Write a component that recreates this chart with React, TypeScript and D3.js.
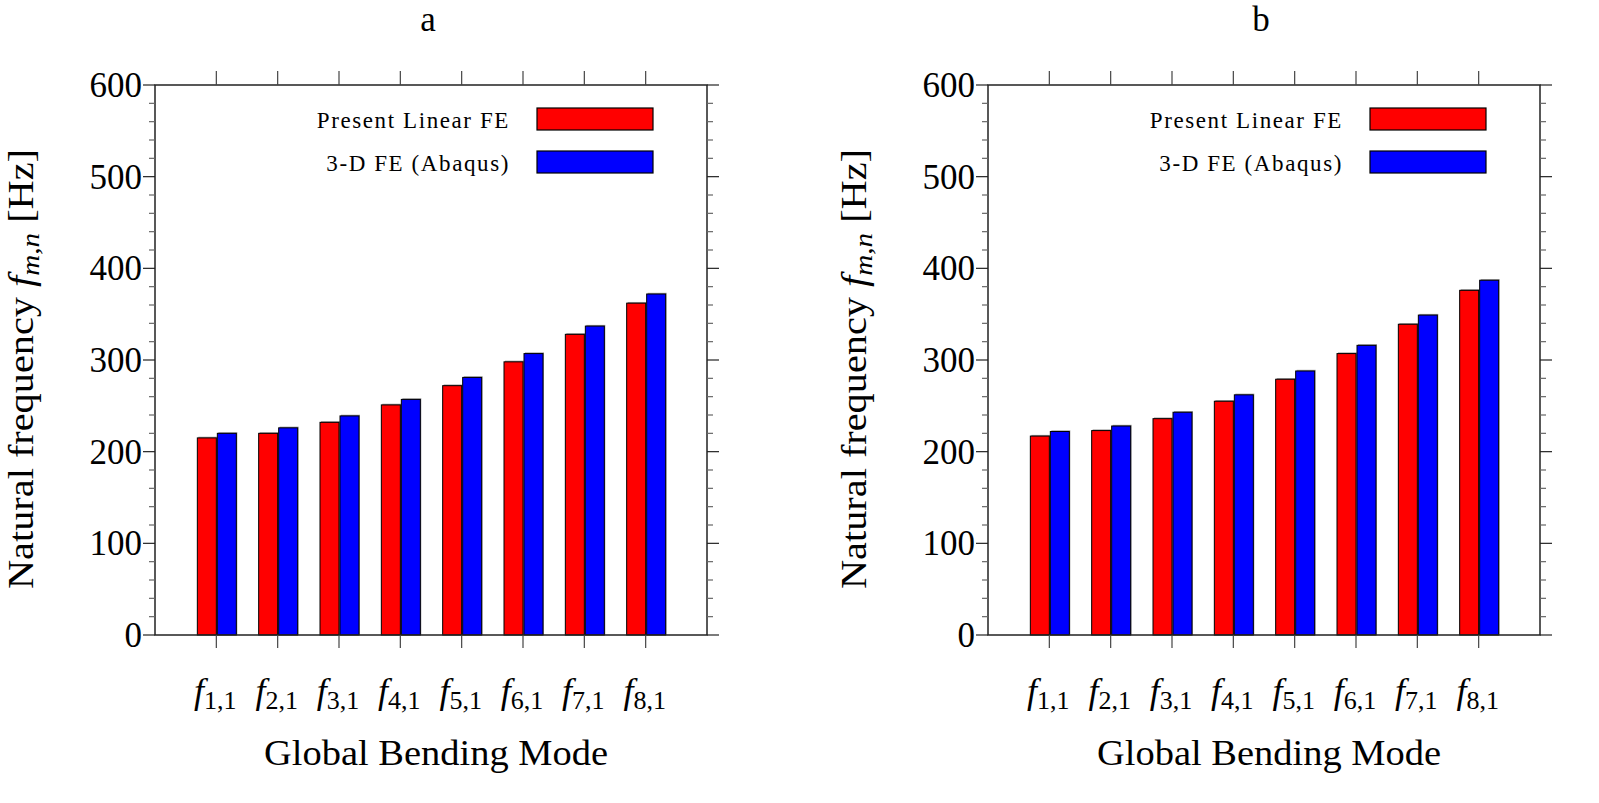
import React from "react";
import * as d3 from "d3";

const modes = ["1", "2", "3", "4", "5", "6", "7", "8"];
const presentA = [215, 220, 232, 251, 272, 298, 328, 362];
const abaqusA = [220, 226, 239, 257, 281, 307, 337, 372];
const presentB = [217, 223, 236, 255, 279, 307, 339, 376];
const abaqusB = [222, 228, 243, 262, 288, 316, 349, 387];
const yTicks = [0, 100, 200, 300, 400, 500, 600];
const seriesNames = ["Present Linear FE", "3-D FE (Abaqus)"];
const seriesColors = ["#ff0000", "#0000ff"];
const panelTitles = ["a", "b"];

const W = 1599;
const H = 803;
const FONT = "'Liberation Serif', 'Times New Roman', serif";

function Panel({ ox, title, s1, s2 }: { ox: number; title: string; s1: number[]; s2: number[] }) {
  const left = ox;
  const right = ox + 552;
  const top = 85;
  const bottom = 635;
  const x = d3.scaleLinear().domain([0, modes.length + 1]).range([left, right]);
  const y = d3.scaleLinear().domain([0, 600]).range([bottom, top]);
  const minor = d3.range(0, 601, 20);
  const bw = 19;
  const cx = (left + right) / 2;

  const bar = (xv: number, v: number, fill: string, key: string) => (
    <g key={key}>
      <rect x={xv + 1} y={y(v) - 1.2} width={bw} height={bottom - y(v) + 1.2} fill="#a0a0a0" />
      <rect x={xv} y={y(v)} width={bw} height={bottom - y(v)} fill={fill} stroke="#000" strokeWidth={1} />
    </g>
  );

  return (
    <g>
      <text x={cx - 3} y={31} fontSize={35} fontFamily={FONT} textAnchor="middle">{title}</text>
      {/* bars */}
      {modes.map((m, i) => {
        const c = x(i + 1);
        return (
          <g key={m}>
            {bar(c - bw, s1[i], seriesColors[0], "r")}
            {bar(c + 1, s2[i], seriesColors[1], "b")}
          </g>
        );
      })}
      {/* frame */}
      <rect x={left} y={top} width={right - left} height={bottom - top} fill="none" stroke="#222" strokeWidth={1.5} />
      {/* y ticks */}
      {minor.map((v) => {
        const major = v % 100 === 0;
        const len = major ? 12 : 6;
        return (
          <g key={v} stroke={major ? "#222" : "#666"} strokeWidth={1.2}>
            <line x1={left - len} x2={left} y1={y(v)} y2={y(v)} />
            <line x1={right} x2={right + len} y1={y(v)} y2={y(v)} />
          </g>
        );
      })}
      {yTicks.map((v) => (
        <text key={v} x={left - 13} y={y(v) + 12} fontSize={35} fontFamily={FONT} textAnchor="end">{v}</text>
      ))}
      {/* x ticks */}
      {modes.map((m, i) => (
        <g key={m} stroke="#444" strokeWidth={1.2}>
          <line x1={x(i + 1)} x2={x(i + 1)} y1={top} y2={top - 14} />
          <line x1={x(i + 1)} x2={x(i + 1)} y1={bottom} y2={bottom + 13} />
        </g>
      ))}
      {modes.map((m, i) => (
        <text key={m} x={x(i + 1) - 1} y={703} fontSize={36} fontFamily={FONT} textAnchor="middle">
          <tspan fontStyle="italic">f</tspan>
          <tspan fontSize={26} dy={6}>{m},1</tspan>
        </text>
      ))}
      <text x={cx + 5} y={765} fontSize={35} fontFamily={FONT} textAnchor="middle" textLength={344} lengthAdjust="spacingAndGlyphs">
        Global Bending Mode
      </text>
      {/* y label */}
      <text transform={`translate(${ox - 122},${369}) rotate(-90)`} fontSize={36} fontFamily={FONT} textAnchor="middle" textLength={440} lengthAdjust="spacingAndGlyphs">
        <tspan>Natural frequency </tspan>
        <tspan fontStyle="italic">f</tspan>
        <tspan fontStyle="italic" fontSize={26} dy={6}>m,n</tspan>
        <tspan dy={-6}> [Hz]</tspan>
      </text>
      {/* legend */}
      {seriesNames.map((n, i) => (
        <g key={n}>
          <text x={left + 355} y={128 + i * 43} fontSize={23} fontFamily={FONT} textAnchor="end" letterSpacing={1.6}>{n}</text>
          <rect x={left + 382} y={108 + i * 43} width={116} height={22} fill={seriesColors[i]} stroke="#000" strokeWidth={1.2} />
        </g>
      ))}
    </g>
  );
}

export default function App() {
  const offsets = [155, 988];
  const data = [
    [presentA, abaqusA],
    [presentB, abaqusB],
  ];
  return (
    <svg width={W} height={H} style={{ position: "absolute", left: 0, top: 0, background: "#fff" }}>
      <rect width={W} height={H} fill="#fff" />
      {offsets.map((ox, k) => (
        <Panel key={k} ox={ox} title={panelTitles[k]} s1={data[k][0]} s2={data[k][1]} />
      ))}
    </svg>
  );
}
